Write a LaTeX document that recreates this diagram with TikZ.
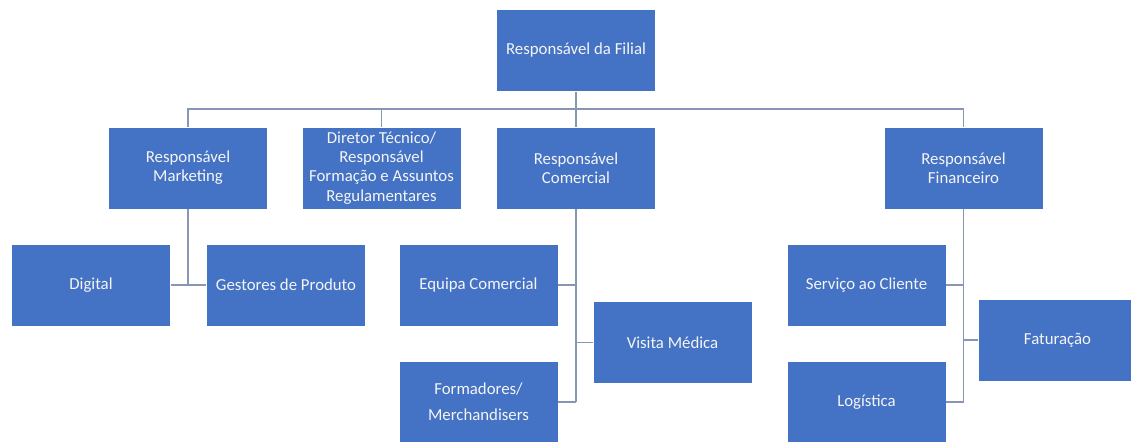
\documentclass[tikz,border=0pt]{standalone}
\usepackage{fontspec}
\setmainfont{Carlito}
\definecolor{boxblue}{RGB}{68,114,196}
\definecolor{linecol}{RGB}{135,150,180}
\tikzset{
  orgbox/.style={draw=white, line width=0.6pt, fill=boxblue, text=white!96!black, inner sep=1pt,
    minimum width=119.25pt, minimum height=61.5pt, align=center,
    font=\fontsize{12.6pt}{14.4pt}\selectfont},
  conn/.style={draw=linecol, line width=1.1pt}
}
\begin{document}
\begin{tikzpicture}[x=0.75pt,y=-0.75pt]
\clip (0,0) rectangle (1131,442);
\fill[white] (0,0) rectangle (1131,442);
% level 1
\node[orgbox] (top) at (576,50.5) {Responsável da Filial};
% level 2
\node[orgbox] (mkt) at (188,168) {Responsável\\Marketing};
\node[orgbox] (dir) at (381.5,168) {Diretor Técnico/\\Responsável\\Formação e Assuntos\\Regulamentares};
\node[orgbox] (com) at (576,168) {Responsável\\Comercial};
\node[orgbox] (fin) at (963.5,168) {Responsável\\Financeiro};
% level 3
\node[orgbox] (dig) at (91,285) {Digital};
\node[orgbox] (ges) at (286,285) {Gestores de Produto};
\node[orgbox] (equ) at (478.5,285) {Equipa Comercial};
\node[orgbox] (vis) at (672.5,342.5) {Visita Médica};
\node[orgbox] (for) at (478.5,402) {Formadores/\\[5pt]Merchandisers};
\node[orgbox] (ser) at (866.5,285) {Serviço ao Cliente};
\node[orgbox] (fat) at (1057.5,340) {Faturação};
\node[orgbox] (log) at (866.5,402) {Logística};
% connectors level 1 -> 2
\coordinate (hub) at (576,109);
\draw[conn] (top.south) -- (hub);
\draw[conn] (mkt.north) |- (hub);
\draw[conn] (dir.north) |- (hub);
\draw[conn] (com.north) -- (hub);
\draw[conn] (fin.north) |- (hub);
% marketing
\coordinate (mktj) at (mkt.south |- dig.east);
\draw[conn] (mkt.south) -- (mktj);
\draw[conn] (dig.east) -- (ges.west);
% comercial
\coordinate (comb) at (com.south |- for.east);
\draw[conn] (com.south) -- (comb);
\draw[conn] (equ.east) -- (com.south |- equ.east);
\draw[conn] (vis.west) -- (com.south |- vis.west);
\draw[conn] (for.east) -- (comb);
% financeiro
\coordinate (finb) at (fin.south |- log.east);
\draw[conn] (fin.south) -- (finb);
\draw[conn] (ser.east) -- (fin.south |- ser.east);
\draw[conn] (fat.west) -- (fin.south |- fat.west);
\draw[conn] (log.east) -- (finb);
\end{tikzpicture}
\end{document}
